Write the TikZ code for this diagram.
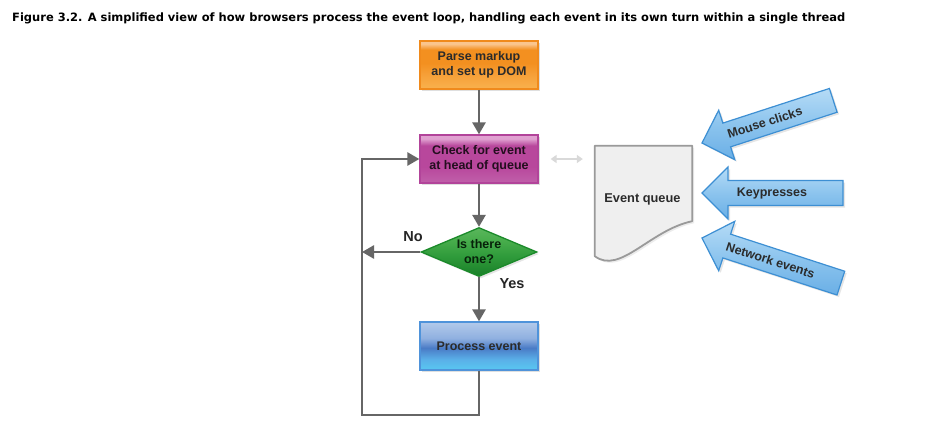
\documentclass[tikz,border=0pt]{standalone}
\usepackage{fontspec}
\usepackage{graphicx}
\setmainfont{Liberation Sans}
\newfontfamily\titlefont{DejaVu Sans}
\usetikzlibrary{arrows.meta,shapes.geometric,shadows}
\definecolor{linegray}{HTML}{666666}
\definecolor{txt}{HTML}{2B2B2B}
\definecolor{orB}{HTML}{F08A1C}
\definecolor{mgB}{HTML}{B2449A}
\definecolor{grB}{HTML}{1B8A2A}
\definecolor{blB}{HTML}{4F93DA}
\definecolor{arB}{HTML}{3D8FD3}
\definecolor{docB}{HTML}{9A9A9A}
\definecolor{docF}{HTML}{EFEFEF}
\pgfdeclareverticalshading{orshade}{100bp}{%
  rgb(0bp)=(0.976,0.698,0.306); rgb(25bp)=(0.976,0.698,0.306); rgb(40bp)=(0.965,0.627,0.220);
  rgb(52bp)=(0.953,0.565,0.125); rgb(66bp)=(0.953,0.565,0.125); rgb(72bp)=(0.980,0.772,0.557);
  rgb(100bp)=(0.980,0.772,0.557)}
\pgfdeclareverticalshading{mgshade}{100bp}{%
  rgb(0bp)=(0.753,0.376,0.667); rgb(25bp)=(0.753,0.376,0.667); rgb(42bp)=(0.722,0.278,0.612);
  rgb(64bp)=(0.722,0.278,0.612); rgb(71bp)=(0.878,0.627,0.816); rgb(100bp)=(0.910,0.722,0.863)}
\pgfdeclareverticalshading{blshade}{100bp}{%
  rgb(0bp)=(0.345,0.784,0.949); rgb(25bp)=(0.345,0.784,0.949); rgb(36bp)=(0.353,0.690,0.910);
  rgb(48bp)=(0.290,0.482,0.776); rgb(58bp)=(0.561,0.690,0.878); rgb(100bp)=(0.910,0.941,0.980)}
\pgfdeclareverticalshading{grshade}{100bp}{%
  rgb(0bp)=(0.102,0.498,0.157); rgb(25bp)=(0.102,0.498,0.157); rgb(45bp)=(0.180,0.604,0.227);
  rgb(62bp)=(0.282,0.678,0.298); rgb(100bp)=(0.486,0.784,0.478)}
\pgfdeclareverticalshading{arshade}{100bp}{%
  rgb(0bp)=(0.416,0.686,0.902); rgb(25bp)=(0.416,0.686,0.902); rgb(50bp)=(0.549,0.769,0.933);
  rgb(75bp)=(0.710,0.859,0.965); rgb(100bp)=(0.710,0.859,0.965)}
\begin{document}
\begin{tikzpicture}[x=1pt,y=-1pt,
  lab/.style={font=\bfseries\fontsize{12.5}{15}\selectfont, text=txt, align=center, inner sep=0pt},
  box/.style={lab, draw, line width=1.3pt, minimum width=118pt, minimum height=48pt,
    drop shadow={opacity=0.25, shadow xshift=2pt, shadow yshift=-2pt}},
  conn/.style={draw=linegray, line width=2.6pt, -{Triangle[length=12pt,width=13pt]}},
  yn/.style={font=\bfseries\fontsize{14.5}{17}\selectfont, text=black!85, inner sep=0pt},
  blockarrow/.style={draw=arB, line width=1.2pt, shading=arshade,
    drop shadow={opacity=0.2, shadow xshift=2pt, shadow yshift=-2pt}},
]
\useasboundingbox (0,0) rectangle (929,424);
\fill[white] (0,0) rectangle (929,424);

% title
\node[anchor=west, inner sep=0pt] (title) at (12,18)
  {\resizebox{833pt}{!}{\titlefont\bfseries Figure 3.2. A simplified view of how browsers process the event loop, handling each event in its own turn within a single thread}};

% flow nodes
\node[box, draw=orB, shading=orshade] (parse) at (479,65) {Parse markup\\and set up DOM};
\node[box, draw=mgB, shading=mgshade, text=black!80!mgB] (check) at (479,159) {Check for event\\at head of queue};
\node[diamond, draw=grB, line width=1.3pt, minimum width=116pt, minimum height=49pt, inner sep=0pt,
  shading=grshade, drop shadow={opacity=0.2, shadow xshift=2pt, shadow yshift=-2pt}] (isone) at (479,252) {};
\node[lab, text=black!75!grB] (isonetext) at (479,251.5) {Is there\\one?};
\node[box, draw=blB, shading=blshade] (process) at (479,346) {Process event};

% connectors
\coordinate (noend) at (362,252);
\coordinate (loopbl) at (362,415);
\draw[conn] (parse) -- (check);
\draw[conn] (check) -- (isone);
\draw[conn] (isone) -- (process);
\draw[conn] (isone.west) -- (noend);
\draw[conn] (process.south) |- (loopbl) |- (check.west);

\node[yn] (no) at (413,237) {No};
\node[yn] (yes) at (512,284) {Yes};

% event queue document
\node[lab, minimum width=97pt, minimum height=112pt] (queue) at (643.5,202) {};
\filldraw[draw=docB, fill=docF, line width=1.8pt, line join=round,
  drop shadow={opacity=0.15, shadow xshift=2pt, shadow yshift=-2pt}]
  (queue.north west) -- (queue.north east) -- ([yshift=37pt]queue.south east)
  .. controls (650,230) and (620,275) .. ([yshift=2pt]queue.south west) -- cycle;
\node[lab, font=\bfseries\fontsize{12.8}{15}\selectfont] (queuetext) at (642.5,199) {Event queue};

% light gray double arrow
\draw[draw=black!15, line width=2.2pt, {Triangle[length=6pt,width=8pt]}-{Triangle[length=6pt,width=8pt]}]
  ([xshift=12pt]check.east) -- ([xshift=-12pt]queue.west |- check.east);

% blue block arrows
\begin{scope}[shift={(702,143)}, rotate=18]
  \path[blockarrow] (0,0) -- (26,-26) -- (26,-12.5) -- (138,-12.5) -- (138,12.5) -- (26,12.5) -- (26,26) -- cycle;
  \node[lab, transform shape] (mouse) at (66,0) {Mouse clicks};
\end{scope}
\begin{scope}[shift={(702,193)}]
  \path[blockarrow] (0,0) -- (26,-26) -- (26,-12.5) -- (141,-12.5) -- (141,12.5) -- (26,12.5) -- (26,26) -- cycle;
  \node[lab] (keys) at (70,0) {Keypresses};
\end{scope}
\begin{scope}[shift={(702,238)}, rotate=-18]
  \path[blockarrow] (0,0) -- (26,-26) -- (26,-12.5) -- (146,-12.5) -- (146,12.5) -- (26,12.5) -- (26,26) -- cycle;
  \node[lab, transform shape] (network) at (72,0) {Network events};
\end{scope}
\end{tikzpicture}
\end{document}
